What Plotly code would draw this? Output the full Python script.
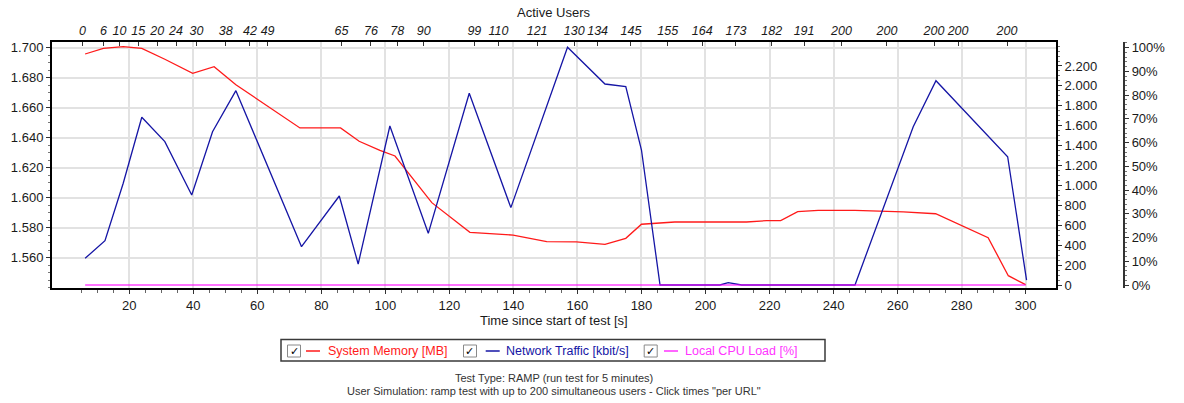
import plotly.graph_objects as go

# ---------------- data ----------------
mem_t = [6.2, 11.9, 18.1, 23.9, 31.1, 39.8, 46.5, 53.3, 73.3, 86.0, 91.8, 98.3, 103.0,
         114.5, 126.4, 139.9, 150.4, 159.7, 168.6, 175.1, 180.0, 190.4, 212.8, 219.1,
         223.5, 228.8, 235.2, 246.7, 261.8, 271.9, 288.3, 294.6, 300.0]
mem_mb = [1695.8, 1699.6, 1700.7, 1699.6, 1692.3, 1682.9, 1687.3, 1675.3, 1646.5, 1646.5,
          1637.6, 1631.5, 1627.8, 1596.7, 1576.9, 1575.1, 1570.7, 1570.5, 1568.9, 1572.9,
          1582.3, 1583.8, 1583.8, 1584.7, 1584.7, 1590.7, 1591.6, 1591.6, 1590.5, 1589.3,
          1573.3, 1548.0, 1542.0]

net_t = [6.2, 12.4, 18.1, 23.9, 31.1, 39.5, 46.0, 53.3, 73.8, 85.6, 91.5, 101.4, 113.4,
         126.2, 139.2, 156.9, 168.6, 175.1, 180.0, 185.8, 204.5, 207.1, 211.3, 246.7,
         264.9, 272.0, 294.4, 300.3]
net_kbit = [268, 445, 1022, 1685, 1440, 904, 1540, 1952, 385, 894, 211, 1597, 519, 1926,
            777, 2388, 2019, 1992, 1356, 0, 0, 23, 0, 0, 1590, 2052, 1289, 50]

cpu_t = [6.2, 53.3, 103.0, 150.4, 204.5, 246.7, 300.0]
cpu_pct = [0, 0, 0, 0, 0, 0, 0]

users_t = [5.4, 11.9, 16.9, 22.8, 28.7, 34.6, 41.0, 50.1, 57.7, 63.2, 86.3, 95.5, 103.7,
           112.0, 127.8, 135.3, 147.4, 159.0, 166.3, 176.7, 188.2, 199.0, 209.5, 220.7,
           230.8, 242.5, 256.7, 271.4, 278.9, 294.2]
users_n = ["0", "6", "10", "15", "20", "24", "30", "38", "42", "49", "65", "76", "78", "90",
           "99", "110", "121", "130", "134", "145", "155", "164", "173", "182", "191",
           "200", "200", "200", "200", "200"]

x_ticks = [20, 40, 60, 80, 100, 120, 140, 160, 180, 200, 220, 240, 260, 280, 300]
x_minor = [5, 10, 15, 25, 30, 35, 45, 50, 55, 65, 70, 75, 85, 90, 95, 105, 110, 115, 125,
           130, 135, 145, 150, 155, 165, 170, 175, 185, 190, 195, 205, 210, 215, 225, 230,
           235, 245, 250, 255, 265, 270, 275, 285, 290, 295]
mem_ticks = [1560, 1580, 1600, 1620, 1640, 1660, 1680, 1700]
net_ticks = [0, 200, 400, 600, 800, 1000, 1200, 1400, 1600, 1800, 2000, 2200]
cpu_ticks = [0, 10, 20, 30, 40, 50, 60, 70, 80, 90, 100]
cpu_labels = ["0%", "10%", "20%", "30%", "40%", "50%", "60%", "70%", "80%", "90%", "100%"]

legend_names = ["System Memory [MB]", "Network Traffic [kbit/s]", "Local CPU Load [%]"]
legend_colors = ["#ff1a1a", "#1515a5", "#ff33ff"]
footnotes = ["Test Type: RAMP (run test for 5 minutes)",
             "User Simulation: ramp test with up to 200 simultaneous users - Click times \"per URL\""]

# ---------------- geometry helpers ----------------
W, H = 1184, 403
ML, MR, MT, MB = 52, 40, 42, 115
PW = W - ML - MR
PH = H - MT - MB
PLOT_R = 1056
DOM_END = (PLOT_R - ML) / PW


def px(x):
    return (x - ML) / PW


def py(y):
    return (H - MB - y) / PH


FONT = "Liberation Sans"
TXT = "#1a1a1a"

fig = go.Figure()
fig.add_trace(go.Scatter(x=mem_t, y=mem_mb, mode="lines", name=legend_names[0],
                         line=dict(color=legend_colors[0], width=1.3),
                         xaxis="x", yaxis="y", hoverinfo="skip"))
fig.add_trace(go.Scatter(x=net_t, y=net_kbit, mode="lines", name=legend_names[1],
                         line=dict(color=legend_colors[1], width=1.3),
                         xaxis="x", yaxis="y2", hoverinfo="skip"))
fig.add_trace(go.Scatter(x=cpu_t, y=cpu_pct, mode="lines", name=legend_names[2],
                         line=dict(color="rgba(255,0,255,0.72)", width=1.6),
                         xaxis="x", yaxis="y3", hoverinfo="skip"))
# carrier for the top "Active Users" axis (no visible marks)
fig.add_trace(go.Scatter(x=users_t, y=[None] * len(users_t), mode="lines",
                         xaxis="x2", yaxis="y", hoverinfo="skip", showlegend=False))

grid = "#e2e2e2"
fig.update_layout(
    width=W, height=H,
    margin=dict(l=ML, r=MR, t=MT, b=MB, pad=0),
    paper_bgcolor="white", plot_bgcolor="white",
    showlegend=False,
    separators=",.",
    font=dict(family=FONT, size=13, color=TXT),
    xaxis=dict(
        domain=[0, DOM_END], range=[-4.15, 309.5],
        tickmode="array", tickvals=x_ticks,
        showgrid=True, gridcolor=grid, gridwidth=1.5,
        showline=True, linecolor="black", linewidth=2,
        ticks="outside", ticklen=4, tickcolor="#333", tickwidth=1,
        minor=dict(tickmode="array", tickvals=x_minor, ticks="outside", ticklen=3,
                   tickcolor="#666", showgrid=False),
        tickfont=dict(size=13, color=TXT), zeroline=False,
    ),
    xaxis2=dict(
        domain=[0, DOM_END], range=[-4.15, 309.5], overlaying="x", side="top", anchor="y",
        tickmode="array", tickvals=users_t, ticktext=users_n,
        showgrid=False, showline=True, linecolor="black", linewidth=2,
        ticks="inside", ticklen=4, tickcolor="#333",
        tickfont=dict(size=12.5, color=TXT, style="italic"), zeroline=False,
    ),
    yaxis=dict(
        range=[1539.8, 1703.8], tickmode="array", tickvals=mem_ticks, tickformat=",d",
        showgrid=True, gridcolor=grid, gridwidth=1.5,
        showline=True, linecolor="black", linewidth=2,
        ticks="outside", ticklen=4, tickcolor="#333",
        minor=dict(dtick=5, tick0=0, ticks="outside", ticklen=2, tickcolor="#777", showgrid=False),
        tickfont=dict(size=13, color=TXT), zeroline=False,
    ),
    yaxis2=dict(
        range=[-30.1, 2441], overlaying="y", side="right", anchor="x",
        tickmode="array", tickvals=net_ticks, tickformat=",d",
        showgrid=False, showline=True, linecolor="black", linewidth=2,
        ticks="outside", ticklen=4, tickcolor="#333",
        minor=dict(dtick=50, tick0=0, ticks="outside", ticklen=2, tickcolor="#777", showgrid=False),
        tickfont=dict(size=13, color=TXT), zeroline=False,
    ),
    yaxis3=dict(
        range=[-1.26, 102.4], overlaying="y", side="right", anchor="free",
        position=px(1124.3),
        tickmode="array", tickvals=cpu_ticks, ticktext=cpu_labels,
        showgrid=False, showline=True, linecolor="#333", linewidth=1.5,
        ticks="outside", ticklen=4, tickcolor="#333",
        minor=dict(dtick=2, tick0=0, ticks="outside", ticklen=2, tickcolor="#777", showgrid=False),
        tickfont=dict(size=13, color=TXT), zeroline=False,
    ),
)

annotations = []
shapes = []

# axis titles
annotations.append(dict(text="Active Users", x=px(553), y=py(13), xref="paper", yref="paper",
                        xanchor="center", yanchor="middle", showarrow=False,
                        font=dict(size=13, color=TXT)))
annotations.append(dict(text="Time since start of test [s]", x=px(554), y=py(320),
                        xref="paper", yref="paper", xanchor="center", yanchor="middle",
                        showarrow=False, font=dict(size=13, color=TXT)))

# legend box
shapes.append(dict(type="rect", xref="paper", yref="paper", x0=px(281), x1=px(825),
                   y0=py(361), y1=py(339.5), line=dict(color="#3a3a3a", width=1.5),
                   fillcolor="rgba(0,0,0,0)"))
box_cx = [294, 470, 650.7]
dash_x = [306, 485.7, 664]
text_x = [326, 504.3, 683.3]
ly = 351
for i in range(3):
    shapes.append(dict(type="rect", xref="paper", yref="paper",
                       x0=px(box_cx[i] - 6.5), x1=px(box_cx[i] + 6.5),
                       y0=py(ly + 6), y1=py(ly - 6),
                       line=dict(color="#8a8a8a", width=1), fillcolor="white"))
    annotations.append(dict(text="✓", x=px(box_cx[i]), y=py(ly), xref="paper", yref="paper",
                            xanchor="center", yanchor="middle", showarrow=False,
                            font=dict(family="DejaVu Sans", size=11, color="black")))
    shapes.append(dict(type="line", xref="paper", yref="paper",
                       x0=px(dash_x[i]), x1=px(dash_x[i] + 14), y0=py(ly), y1=py(ly),
                       line=dict(color=legend_colors[i], width=1.5)))
    annotations.append(dict(text=legend_names[i], x=px(text_x[i]), y=py(ly), xref="paper",
                            yref="paper", xanchor="left", yanchor="middle", showarrow=False,
                            font=dict(size=12.5, color=legend_colors[i])))

# footnotes
for txt, yy in zip(footnotes, [377.7, 391]):
    annotations.append(dict(text=txt, x=px(554), y=py(yy), xref="paper", yref="paper",
                            xanchor="center", yanchor="middle", showarrow=False,
                            font=dict(size=11, color="#333")))

fig.update_layout(annotations=annotations, shapes=shapes)
fig.write_html("out.html",
               config={"displayModeBar": False},
               post_script="document.body.style.margin='0';document.body.style.overflow='hidden';")
